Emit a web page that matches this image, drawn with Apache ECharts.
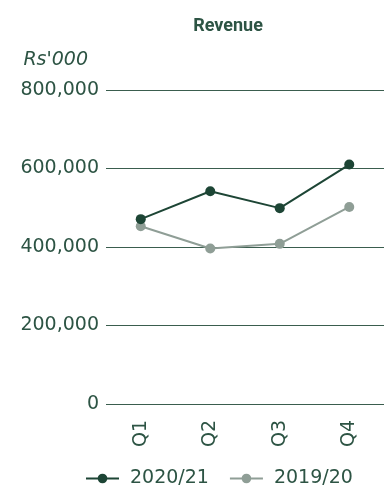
<!DOCTYPE html>
<html>
<head>
<meta charset="utf-8">
<script src="https://cdn.jsdelivr.net/npm/echarts@6/dist/echarts.min.js"></script>
<style>
  html, body { margin: 0; padding: 0; background: #fff; overflow: hidden; }
  #chart { width: 384px; height: 485px; }
</style>
</head>
<body>
<div id="chart"></div>
<script>
// Quarterly revenue, Rs'000
const quarters = ['Q1', 'Q2', 'Q3', 'Q4'];
const revenue2021 = [471000, 542000, 499000, 610000];
const revenue1920 = [453000, 396000, 408000, 502000];
const yTicks = [0, 200000, 400000, 600000, 800000];

const darkGreen = '#1d4535';
const softGrey = '#8f9e96';
const textColor = '#2d5444';
const labelFont = 'DejaVu Sans';

const chart = echarts.init(document.getElementById('chart'), null, { renderer: 'canvas' });

chart.setOption({
  animation: false,
  title: {
    text: 'Revenue',
    left: 223,
    top: 12,
    textAlign: 'center',
    textStyle: {
      fontFamily: 'Roboto',
      fontWeight: 'bold',
      fontSize: 18,
      color: textColor
    }
  },
  grid: { left: 106, top: 90, width: 286, height: 314 },
  xAxis: {
    type: 'category',
    data: quarters,
    boundaryGap: true,
    axisLine: { show: false },
    axisTick: { show: false },
    axisLabel: {
      rotate: 90,
      margin: 16,
      fontFamily: labelFont,
      fontSize: 19,
      color: textColor
    }
  },
  yAxis: {
    type: 'value',
    min: yTicks[0],
    max: yTicks[yTicks.length - 1],
    interval: 200000,
    name: "Rs'000",
    nameLocation: 'end',
    nameGap: 20,
    nameTextStyle: {
      fontFamily: labelFont,
      fontStyle: 'italic',
      fontSize: 19,
      color: textColor,
      align: 'right',
      padding: [0, 18, 0, 0]
    },
    axisLine: { show: false },
    axisTick: { show: false },
    axisLabel: {
      margin: 7,
      fontFamily: labelFont,
      fontSize: 19,
      color: textColor,
      formatter: v => v.toLocaleString('en-US')
    },
    splitLine: { lineStyle: { color: '#3a5d4e', width: 1.2 } }
  },
  legend: {
    top: 464,
    left: 80,
    itemWidth: 33,
    itemHeight: 12,
    itemGap: 20,
    lineStyle: { width: 2 },
    textStyle: {
      fontFamily: labelFont,
      fontSize: 19,
      color: textColor,
      padding: [0, 0, 0, 6]
    },
    data: ['2020/21', '2019/20']
  },
  series: [
    {
      name: '2020/21',
      type: 'line',
      data: revenue2021,
      symbol: 'circle',
      symbolSize: 10,
      itemStyle: { color: darkGreen },
      lineStyle: { color: darkGreen, width: 2 },
      z: 3
    },
    {
      name: '2019/20',
      type: 'line',
      data: revenue1920,
      symbol: 'circle',
      symbolSize: 10,
      itemStyle: { color: softGrey },
      lineStyle: { color: softGrey, width: 2 },
      z: 2
    }
  ]
});
</script>
</body>
</html>
